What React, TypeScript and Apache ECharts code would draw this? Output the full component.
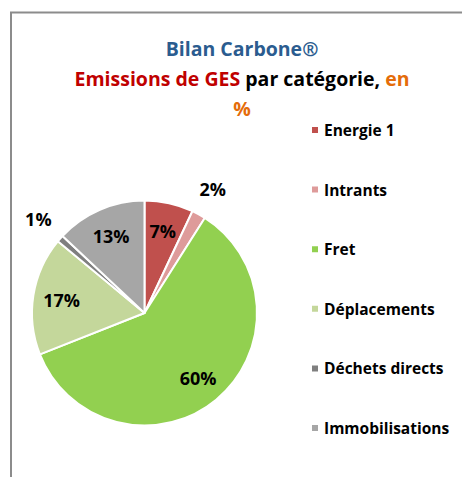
import React, { useEffect, useRef } from "react";
import * as echarts from "echarts";

const categories = ["Energie 1", "Intrants", "Fret", "Déplacements", "Déchets directs", "Immobilisations"];
const values = [7, 2, 60, 17, 1, 13];
const colors = ["#C0504D", "#DE9B9A", "#92D050", "#C4D79B", "#7F7F7F", "#A6A6A6"];
const outsideLabel = [false, true, false, false, true, false];

const FONT = "Open Sans";

export default function App() {
  const ref = useRef<HTMLDivElement>(null);
  useEffect(() => {
    if (!ref.current) return;
    const chart = echarts.init(ref.current, null, { renderer: "svg" });
    const cx = 144.5;
    const cy = 313;
    const R = 112.5;
    const base = categories.map((name, i) => ({ name, value: values[i], itemStyle: { color: colors[i] } }));
    const labelStyle = {
      color: "#000",
      fontFamily: FONT,
      fontWeight: "bold" as const,
      fontSize: 18,
      formatter: "{c}%",
    };
    const t = { fontFamily: FONT, fontWeight: "bold" as const, fontSize: 19.5, lineHeight: 30 };
    chart.setOption({
      animation: false,
      backgroundColor: "#fff",
      title: {
        left: 242,
        top: 33,
        padding: 0,
        textAlign: "center",
        text: "{b|Bilan Carbone®}\n{r|Emissions de GES}{k| par catégorie, }{o|en}\n{o|%}",
        textStyle: {
          ...t,
          rich: {
            b: { ...t, color: "#2B5C8F" },
            r: { ...t, color: "#C00000" },
            k: { ...t, color: "#000000" },
            o: { ...t, color: "#E46C0A" },
          },
        },
      },
      legend: {
        orient: "vertical",
        left: 310,
        top: 122,
        padding: 0,
        icon: "rect",
        itemWidth: 8,
        itemHeight: 8,
        itemGap: 43.6,
        selectedMode: false,
        data: categories,
        textStyle: {
          fontFamily: FONT,
          fontWeight: "bold",
          fontSize: 15.5,
          lineHeight: 16,
          color: "#000",
        },
      },
      graphic: [
        {
          type: "rect",
          shape: { x: 11, y: 12.5, width: 480, height: 500 },
          style: { fill: "none", stroke: "#8C8C8C", lineWidth: 2 },
          silent: true,
          z: 100,
        },
      ],
      series: [
        {
          type: "pie",
          center: [cx, cy],
          radius: [0, R],
          startAngle: 90,
          clockwise: true,
          avoidLabelOverlap: false,
          label: { show: false },
          labelLine: { show: false },
          itemStyle: { borderColor: "#fff", borderWidth: 2 },
          emphasis: { disabled: true },
          data: base,
        },
        {
          type: "pie",
          center: [cx, cy],
          radius: [R * 0.44, R],
          startAngle: 90,
          clockwise: true,
          silent: true,
          legendHoverLink: false,
          avoidLabelOverlap: false,
          itemStyle: { color: "rgba(0,0,0,0)", borderWidth: 0 },
          emphasis: { disabled: true },
          label: { ...labelStyle, position: "inside" },
          labelLine: { show: false },
          data: categories.map((name, i) => ({
            name,
            value: values[i],
            label: { show: !outsideLabel[i] },
          })),
        },
        {
          type: "pie",
          center: [cx, cy],
          radius: [R, R + 52],
          startAngle: 90,
          clockwise: true,
          silent: true,
          legendHoverLink: false,
          avoidLabelOverlap: false,
          itemStyle: { color: "rgba(0,0,0,0)", borderWidth: 0 },
          emphasis: { disabled: true },
          label: { ...labelStyle, position: "inside" },
          labelLine: { show: false },
          data: categories.map((name, i) => ({
            name,
            value: values[i],
            label: { show: outsideLabel[i] },
          })),
        },
      ],
    });
    return () => chart.dispose();
  }, []);
  return (
    <div
      ref={ref}
      style={{ position: "fixed", left: 0, top: 0, width: 462, height: 477 }}
    />
  );
}
